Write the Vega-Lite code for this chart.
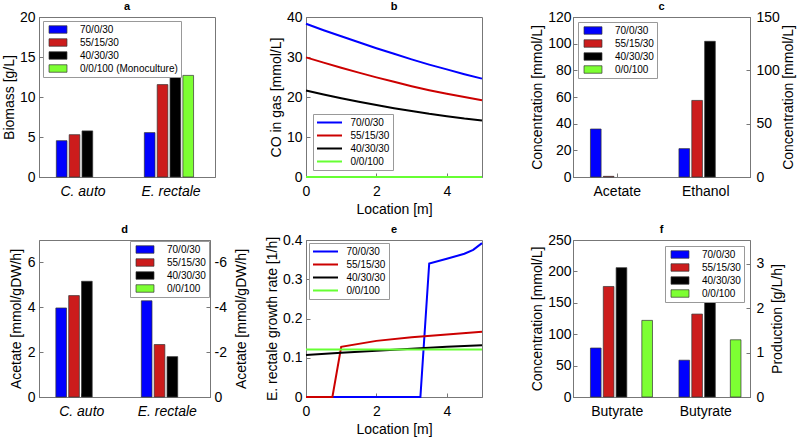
{
  "$schema": "https://vega.github.io/schema/vega-lite/v6.json",
  "padding": {"left": 1, "top": 0, "right": 4, "bottom": 2},
  "background": "white",
  "config": {
    "font": "Liberation Sans",
    "view": {"stroke": "#777", "strokeWidth": 1},
    "axis": {"labelFont": "Liberation Sans", "labelFontSize": 14, "labelColor": "#000", "titleFont": "Liberation Sans", "titleFontSize": 14, "titleFontWeight": "normal", "titleColor": "#000", "domainColor": "#777", "tickColor": "#777", "tickSize": -4, "grid": false, "labelFlush": false},
    "axisX": {"labelPadding": 11, "titlePadding": 4},
    "axisY": {"labelPadding": 8, "titlePadding": 3},
    "legend": {"labelFont": "Liberation Sans", "labelFontSize": 10, "labelColor": "#000", "strokeColor": "#999", "fillColor": "#fff", "padding": 3, "rowPadding": 2, "clipHeight": 11, "symbolSize": 100, "labelOffset": 15, "symbolOpacity": 1, "labelLimit": 200},
    "title": {"font": "Liberation Sans", "fontSize": 11, "fontWeight": "bold", "color": "#000"}
  },
  "columns": 3,
  "spacing": {"row": 63, "column": 91},
  "bounds": "flush",
  "resolve": {"scale": {"color": "independent"}, "legend": {"color": "independent"}},
  "concat": [
    {
      "width": 176, "height": 160, "title": {"text": "a", "offset": -2},
      "data": {"values": [
        {"sp": "C. auto", "s": "70/0/30", "v": 4.54},
        {"sp": "C. auto", "s": "55/15/30", "v": 5.29},
        {"sp": "C. auto", "s": "40/30/30", "v": 5.76},
        {"sp": "E. rectale", "s": "70/0/30", "v": 5.55},
        {"sp": "E. rectale", "s": "55/15/30", "v": 11.55},
        {"sp": "E. rectale", "s": "40/30/30", "v": 13.7},
        {"sp": "E. rectale", "s": "0/0/100 (Monoculture)", "v": 12.7}
      ]},
      "mark": {"type": "bar", "stroke": "#333", "strokeWidth": 0.7, "width": {"band": 0.83}},
      "encoding": {
        "x": {"field": "sp", "type": "nominal", "scale": {"domain": ["C. auto", "E. rectale"], "paddingInner": 0.27, "paddingOuter": 0.135}, "axis": {"title": null, "labelAngle": 0, "labelFontStyle": "italic"}},
        "xOffset": {"field": "s", "type": "nominal", "scale": {"domain": ["70/0/30", "55/15/30", "40/30/30", "0/0/100 (Monoculture)"], "paddingInner": 0, "paddingOuter": 0}},
        "y": {"field": "v", "type": "quantitative", "scale": {"domain": [0, 20], "nice": false}, "axis": {"title": "Biomass [g/L]", "values": [0, 5, 10, 15, 20]}},
        "color": {"field": "s", "type": "nominal", "scale": {"domain": ["70/0/30", "55/15/30", "40/30/30", "0/0/100 (Monoculture)"], "range": ["#0000ff", "#cc1c1c", "#000000", "#7dff33"]},
          "legend": {"title": null, "orient": "top-left", "offset": 4, "symbolType": "M-2.4,-1H2.4V1H-2.4Z", "symbolSize": 56, "symbolOffset": 7, "labelOffset": 17, "symbolStrokeColor": "#333", "symbolStrokeWidth": 0.7}}
      }
    },
    {
      "width": 176, "height": 160, "title": {"text": "b", "offset": -2},
      "data": {"values": [
        {"x": 0, "y": 38.3, "s": "70/0/30"}, {"x": 0.5, "y": 36.7, "s": "70/0/30"}, {"x": 1, "y": 35.2, "s": "70/0/30"}, {"x": 1.5, "y": 33.7, "s": "70/0/30"}, {"x": 2, "y": 32.2, "s": "70/0/30"}, {"x": 2.5, "y": 30.8, "s": "70/0/30"}, {"x": 3, "y": 29.4, "s": "70/0/30"}, {"x": 3.5, "y": 28.1, "s": "70/0/30"}, {"x": 4, "y": 26.9, "s": "70/0/30"}, {"x": 4.5, "y": 25.7, "s": "70/0/30"}, {"x": 5, "y": 24.6, "s": "70/0/30"},
        {"x": 0, "y": 29.9, "s": "55/15/30"}, {"x": 0.5, "y": 28.6, "s": "55/15/30"}, {"x": 1, "y": 27.3, "s": "55/15/30"}, {"x": 1.5, "y": 26.1, "s": "55/15/30"}, {"x": 2, "y": 24.9, "s": "55/15/30"}, {"x": 2.5, "y": 23.8, "s": "55/15/30"}, {"x": 3, "y": 22.7, "s": "55/15/30"}, {"x": 3.5, "y": 21.7, "s": "55/15/30"}, {"x": 4, "y": 20.8, "s": "55/15/30"}, {"x": 4.5, "y": 20.0, "s": "55/15/30"}, {"x": 5, "y": 19.2, "s": "55/15/30"},
        {"x": 0, "y": 21.6, "s": "40/30/30"}, {"x": 0.5, "y": 20.6, "s": "40/30/30"}, {"x": 1, "y": 19.7, "s": "40/30/30"}, {"x": 1.5, "y": 18.8, "s": "40/30/30"}, {"x": 2, "y": 18.0, "s": "40/30/30"}, {"x": 2.5, "y": 17.2, "s": "40/30/30"}, {"x": 3, "y": 16.5, "s": "40/30/30"}, {"x": 3.5, "y": 15.8, "s": "40/30/30"}, {"x": 4, "y": 15.2, "s": "40/30/30"}, {"x": 4.5, "y": 14.6, "s": "40/30/30"}, {"x": 5, "y": 14.1, "s": "40/30/30"},
        {"x": 0, "y": 0, "s": "0/0/100"}, {"x": 5, "y": 0, "s": "0/0/100"}
      ]},
      "mark": {"type": "line", "strokeWidth": 2},
      "encoding": {
        "x": {"field": "x", "type": "quantitative", "scale": {"domain": [0, 5], "nice": false}, "axis": {"title": "Location [m]", "values": [0, 2, 4]}},
        "y": {"field": "y", "type": "quantitative", "scale": {"domain": [0, 40], "nice": false}, "axis": {"title": "CO in gas [mmol/L]", "values": [0, 10, 20, 30, 40]}},
        "color": {"field": "s", "type": "nominal", "scale": {"domain": ["70/0/30", "55/15/30", "40/30/30", "0/0/100"], "range": ["#0000ff", "#cc0000", "#000000", "#66ff33"]},
          "legend": {"title": null, "orient": "bottom-left", "offset": 7, "symbolType": "M-2.5,0H2.5", "symbolOffset": 7.5, "symbolStrokeWidth": 2}}
      }
    },
    {
      "width": 177, "height": 160, "title": {"text": "c", "offset": -2},
      "layer": [
        {
          "data": {"values": [
            {"c": "Acetate", "s": "70/0/30", "v": 36},
            {"c": "Acetate", "s": "55/15/30", "v": 0.5}
          ]},
          "mark": {"type": "bar", "stroke": "#333", "strokeWidth": 0.7, "width": {"band": 0.83}},
          "encoding": {
            "x": {"field": "c", "type": "nominal", "scale": {"domain": ["Acetate", "Ethanol"], "paddingInner": 0.27, "paddingOuter": 0.135}, "axis": {"title": null, "labelAngle": 0}},
            "xOffset": {"field": "s", "type": "nominal", "scale": {"domain": ["70/0/30", "55/15/30", "40/30/30", "0/0/100"], "paddingInner": 0, "paddingOuter": 0}},
            "y": {"field": "v", "type": "quantitative", "scale": {"domain": [0, 120], "nice": false}, "axis": {"title": "Concentration [mmol/L]", "values": [0, 20, 40, 60, 80, 100, 120], "labelPadding": 6}},
            "color": {"field": "s", "type": "nominal", "scale": {"domain": ["70/0/30", "55/15/30", "40/30/30", "0/0/100"], "range": ["#0000ff", "#cc1c1c", "#000000", "#7dff33"]},
              "legend": {"title": null, "orient": "top-left", "offset": 5, "symbolType": "M-2.4,-1H2.4V1H-2.4Z", "symbolSize": 56, "symbolOffset": 7, "labelOffset": 17, "symbolStrokeColor": "#333", "symbolStrokeWidth": 0.7}}
          }
        },
        {
          "data": {"values": [
            {"c": "Ethanol", "s": "70/0/30", "v": 26.6},
            {"c": "Ethanol", "s": "55/15/30", "v": 71.8},
            {"c": "Ethanol", "s": "40/30/30", "v": 127.2}
          ]},
          "mark": {"type": "bar", "stroke": "#333", "strokeWidth": 0.7, "width": {"band": 0.83}},
          "encoding": {
            "x": {"field": "c", "type": "nominal", "scale": {"domain": ["Acetate", "Ethanol"], "paddingInner": 0.27, "paddingOuter": 0.135}, "axis": {"title": null, "labelAngle": 0}},
            "xOffset": {"field": "s", "type": "nominal", "scale": {"domain": ["70/0/30", "55/15/30", "40/30/30", "0/0/100"], "paddingInner": 0, "paddingOuter": 0}},
            "y": {"field": "v", "type": "quantitative", "scale": {"domain": [0, 150], "nice": false}, "axis": {"title": "Concentration [mmol/L]", "orient": "right", "titleAngle": 270, "titleBaseline": "top", "titlePadding": 2, "labelPadding": 10, "values": [0, 50, 100, 150]}},
            "color": {"field": "s", "type": "nominal", "scale": {"domain": ["70/0/30", "55/15/30", "40/30/30", "0/0/100"], "range": ["#0000ff", "#cc1c1c", "#000000", "#7dff33"]},
              "legend": {"title": null, "orient": "top-left", "offset": 5, "symbolType": "M-2.4,-1H2.4V1H-2.4Z", "symbolSize": 56, "symbolOffset": 7, "labelOffset": 17, "symbolStrokeColor": "#333", "symbolStrokeWidth": 0.7}}
          }
        }
      ],
      "resolve": {"scale": {"y": "independent"}}
    },
    {
      "width": 171, "height": 157, "title": {"text": "d", "offset": 5},
      "layer": [
        {
          "data": {"values": [
            {"sp": "C. auto", "s": "70/0/30", "v": 3.97},
            {"sp": "C. auto", "s": "55/15/30", "v": 4.52},
            {"sp": "C. auto", "s": "40/30/30", "v": 5.16}
          ]},
          "mark": {"type": "bar", "stroke": "#333", "strokeWidth": 0.7, "width": {"band": 0.83}},
          "encoding": {
            "x": {"field": "sp", "type": "nominal", "scale": {"domain": ["C. auto", "E. rectale"], "paddingInner": 0.27, "paddingOuter": 0.135}, "axis": {"title": null, "labelAngle": 0, "labelFontStyle": "italic"}},
            "xOffset": {"field": "s", "type": "nominal", "scale": {"domain": ["70/0/30", "55/15/30", "40/30/30", "0/0/100"], "paddingInner": 0, "paddingOuter": 0}},
            "y": {"field": "v", "type": "quantitative", "scale": {"domain": [0, 7], "nice": false}, "axis": {"title": "Acetate [mmol/gDW/h]", "values": [0, 2, 4, 6], "titlePadding": 4}},
            "color": {"field": "s", "type": "nominal", "scale": {"domain": ["70/0/30", "55/15/30", "40/30/30", "0/0/100"], "range": ["#0000ff", "#cc1c1c", "#000000", "#7dff33"]},
              "legend": {"title": null, "orient": "top-right", "offset": 1, "symbolType": "M-2.4,-1H2.4V1H-2.4Z", "symbolSize": 56, "symbolOffset": 7, "labelOffset": 17, "symbolStrokeColor": "#333", "symbolStrokeWidth": 0.7}}
          }
        },
        {
          "data": {"values": [
            {"sp": "E. rectale", "s": "70/0/30", "v": -4.29},
            {"sp": "E. rectale", "s": "55/15/30", "v": -2.34},
            {"sp": "E. rectale", "s": "40/30/30", "v": -1.8}
          ]},
          "mark": {"type": "bar", "stroke": "#333", "strokeWidth": 0.7, "width": {"band": 0.83}},
          "encoding": {
            "x": {"field": "sp", "type": "nominal", "scale": {"domain": ["C. auto", "E. rectale"], "paddingInner": 0.27, "paddingOuter": 0.135}, "axis": {"title": null, "labelAngle": 0, "labelFontStyle": "italic"}},
            "xOffset": {"field": "s", "type": "nominal", "scale": {"domain": ["70/0/30", "55/15/30", "40/30/30", "0/0/100"], "paddingInner": 0, "paddingOuter": 0}},
            "y": {"field": "v", "type": "quantitative", "scale": {"domain": [0, -7], "nice": false, "zero": false}, "axis": {"title": "Acetate [mmol/gDW/h]", "orient": "right", "titleAngle": 270, "titleBaseline": "top", "titlePadding": 8, "labelPadding": 8, "values": [0, -2, -4, -6], "labelExpr": "datum.value + ''"}},
            "color": {"field": "s", "type": "nominal", "scale": {"domain": ["70/0/30", "55/15/30", "40/30/30", "0/0/100"], "range": ["#0000ff", "#cc1c1c", "#000000", "#7dff33"]},
              "legend": {"title": null, "orient": "top-right", "offset": 1, "symbolType": "M-2.4,-1H2.4V1H-2.4Z", "symbolSize": 56, "symbolOffset": 7, "labelOffset": 17, "symbolStrokeColor": "#333", "symbolStrokeWidth": 0.7}}
          }
        }
      ],
      "resolve": {"scale": {"y": "independent"}}
    },
    {
      "width": 176, "height": 157, "title": {"text": "e", "offset": -2},
      "data": {"values": [
        {"x": 0, "y": 0, "s": "70/0/30"}, {"x": 3.25, "y": 0, "s": "70/0/30"}, {"x": 3.5, "y": 0.34, "s": "70/0/30"}, {"x": 4, "y": 0.352, "s": "70/0/30"}, {"x": 4.5, "y": 0.365, "s": "70/0/30"}, {"x": 4.75, "y": 0.375, "s": "70/0/30"}, {"x": 5, "y": 0.392, "s": "70/0/30"},
        {"x": 0, "y": 0, "s": "55/15/30"}, {"x": 0.75, "y": 0, "s": "55/15/30"}, {"x": 1, "y": 0.128, "s": "55/15/30"}, {"x": 2, "y": 0.143, "s": "55/15/30"}, {"x": 3, "y": 0.152, "s": "55/15/30"}, {"x": 4, "y": 0.159, "s": "55/15/30"}, {"x": 5, "y": 0.166, "s": "55/15/30"},
        {"x": 0, "y": 0.107, "s": "40/30/30"}, {"x": 1, "y": 0.113, "s": "40/30/30"}, {"x": 2, "y": 0.118, "s": "40/30/30"}, {"x": 3, "y": 0.123, "s": "40/30/30"}, {"x": 4, "y": 0.128, "s": "40/30/30"}, {"x": 5, "y": 0.132, "s": "40/30/30"},
        {"x": 0, "y": 0.121, "s": "0/0/100"}, {"x": 5, "y": 0.121, "s": "0/0/100"}
      ]},
      "mark": {"type": "line", "strokeWidth": 2},
      "encoding": {
        "x": {"field": "x", "type": "quantitative", "scale": {"domain": [0, 5], "nice": false}, "axis": {"title": "Location [m]", "values": [0, 2, 4]}},
        "y": {"field": "y", "type": "quantitative", "scale": {"domain": [0, 0.4], "nice": false}, "axis": {"title": "E. rectale growth rate [1/h]", "values": [0, 0.1, 0.2, 0.3, 0.4], "labelExpr": "datum.value == 0 ? '0' : format(datum.value, '.1f')"}},
        "color": {"field": "s", "type": "nominal", "scale": {"domain": ["70/0/30", "55/15/30", "40/30/30", "0/0/100"], "range": ["#0000ff", "#cc0000", "#000000", "#66ff33"]},
          "legend": {"title": null, "orient": "top-left", "offset": 3, "symbolType": "M-2.5,0H2.5", "symbolOffset": 7.5, "symbolStrokeWidth": 2}}
      }
    },
    {
      "width": 177, "height": 157, "title": {"text": "f", "offset": -2},
      "layer": [
        {
          "data": {"values": [
            {"g": "conc", "s": "70/0/30", "v": 78},
            {"g": "conc", "s": "55/15/30", "v": 176},
            {"g": "conc", "s": "40/30/30", "v": 206},
            {"g": "conc", "s": "0/0/100", "v": 122}
          ]},
          "mark": {"type": "bar", "stroke": "#333", "strokeWidth": 0.7, "width": {"band": 0.83}},
          "encoding": {
            "x": {"field": "g", "type": "nominal", "scale": {"domain": ["conc", "prod"], "paddingInner": 0.27, "paddingOuter": 0.135}, "axis": {"title": null, "labelAngle": 0, "labelExpr": "'Butyrate'"}},
            "xOffset": {"field": "s", "type": "nominal", "scale": {"domain": ["70/0/30", "55/15/30", "40/30/30", "0/0/100"], "paddingInner": 0, "paddingOuter": 0}},
            "y": {"field": "v", "type": "quantitative", "scale": {"domain": [0, 250], "nice": false}, "axis": {"title": "Concentration [mmol/L]", "values": [0, 50, 100, 150, 200, 250], "labelPadding": 6}},
            "color": {"field": "s", "type": "nominal", "scale": {"domain": ["70/0/30", "55/15/30", "40/30/30", "0/0/100"], "range": ["#0000ff", "#cc1c1c", "#000000", "#7dff33"]},
              "legend": {"title": null, "orient": "top-right", "offset": 6, "symbolType": "M-2.4,-1H2.4V1H-2.4Z", "symbolSize": 56, "symbolOffset": 7, "labelOffset": 17, "symbolStrokeColor": "#333", "symbolStrokeWidth": 0.7}}
          }
        },
        {
          "data": {"values": [
            {"g": "prod", "s": "70/0/30", "v": 0.83},
            {"g": "prod", "s": "55/15/30", "v": 1.87},
            {"g": "prod", "s": "40/30/30", "v": 2.19},
            {"g": "prod", "s": "0/0/100", "v": 1.29}
          ]},
          "mark": {"type": "bar", "stroke": "#333", "strokeWidth": 0.7, "width": {"band": 0.83}},
          "encoding": {
            "x": {"field": "g", "type": "nominal", "scale": {"domain": ["conc", "prod"], "paddingInner": 0.27, "paddingOuter": 0.135}, "axis": {"title": null, "labelAngle": 0, "labelExpr": "'Butyrate'"}},
            "xOffset": {"field": "s", "type": "nominal", "scale": {"domain": ["70/0/30", "55/15/30", "40/30/30", "0/0/100"], "paddingInner": 0, "paddingOuter": 0}},
            "y": {"field": "v", "type": "quantitative", "scale": {"domain": [0, 3.54], "nice": false}, "axis": {"title": "Production [g/L/h]", "orient": "right", "titleAngle": 270, "titleBaseline": "top", "titlePadding": 7, "labelPadding": 10, "values": [0, 1, 2, 3]}},
            "color": {"field": "s", "type": "nominal", "scale": {"domain": ["70/0/30", "55/15/30", "40/30/30", "0/0/100"], "range": ["#0000ff", "#cc1c1c", "#000000", "#7dff33"]},
              "legend": {"title": null, "orient": "top-right", "offset": 6, "symbolType": "M-2.4,-1H2.4V1H-2.4Z", "symbolSize": 56, "symbolOffset": 7, "labelOffset": 17, "symbolStrokeColor": "#333", "symbolStrokeWidth": 0.7}}
          }
        }
      ],
      "resolve": {"scale": {"y": "independent"}}
    }
  ]
}
